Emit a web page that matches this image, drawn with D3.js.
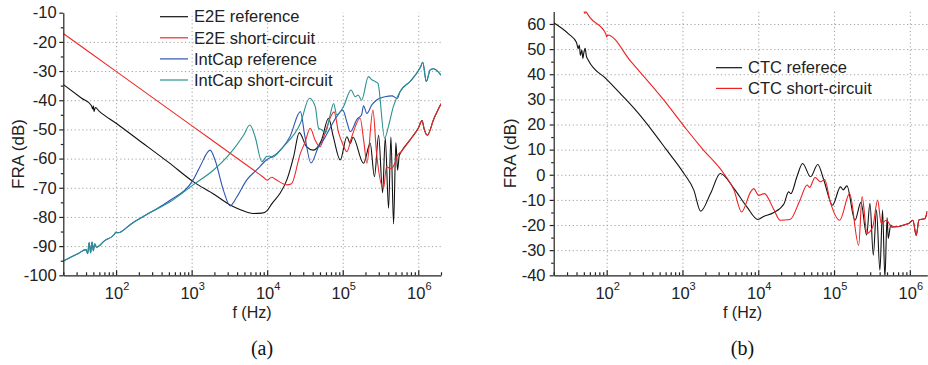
<!DOCTYPE html>
<html>
<head>
<meta charset="utf-8">
<script src="https://cdn.jsdelivr.net/npm/d3@7"></script>
<style>
  body { margin: 0; background: #fff; }
  svg { display: block; font-family: "Liberation Sans", Arial, sans-serif; }
</style>
</head>
<body>
<svg id="chart" width="928" height="365"></svg>
<script>
// ---- data (f in Hz, FRA in dB) ----
const e2eTail = [[600000,-57.5],[800000,-53.2],[1000000,-49.6],[1122000,-47],[1200000,-50],[1318000,-52],[1600000,-46.5],[2000000,-41.2]];
const e2eRef = [[20,-34.6],[35,-39.3],[47,-41.8],[49,-43.0],[50,-41.9],[51,-43.9],[53,-42.5],[60,-43.8],[100,-47.9],[200,-53.7],[500,-61.4],[1047,-67.9],[2000,-72.3],[3236,-75.9],[4500,-77.6],[6500,-78.8],[8500,-78.7],[10000,-77.8],[11500,-75.5],[14800,-71.9],[18200,-67.3],[22400,-59.3],[26600,-51.1],[33100,-55.9],[40700,-57.1],[52500,-53.6],[64900,-46.2],[75000,-52.5],[92700,-60.5],[113500,-52.5],[125900,-54.8],[136500,-52.7],[188800,-61.6],[231200,-54.8],[263000,-66.2],[298500,-52],[337300,-71.7],[365600,-53],[404600,-77],[434500,-52.5],[471000,-82.4],[505800,-54.5],[532100,-64],[560000,-59]].concat(e2eTail);
const e2eShort = [[20,-17.1],[100,-30.1],[1000,-48.7],[5000,-61.7],[8900,-66.4],[10000,-67.4],[11500,-66.4],[13000,-67.2],[18200,-69.0],[21000,-68.6],[27500,-58.2],[31600,-54.5],[37150,-49.6],[43000,-53.6],[50000,-56],[58900,-50.8],[77000,-44],[88000,-51],[100000,-55],[113500,-57.6],[131800,-52.5],[170000,-46.2],[190000,-54],[208900,-61.6],[251200,-43.4],[280000,-58],[346700,-70.2],[380000,-62.8],[430000,-63.5],[490000,-61.6],[520000,-59.3]].concat(e2eTail);

const intBase = [[20,-95.1],[31.6,-92.5],[40,-91.2],[42,-92.6],[44,-88.8],[46,-92.3],[48,-88.6],[50,-91.6],[52,-89.2],[55,-90.4],[70,-88.2],[94,-86.1],[100,-85.2],[106,-85.4],[158,-82.4],[282,-78.5]];
const intTail = [[575400,-37],[783000,-33.5],[1064000,-28.8],[1148000,-27],[1276000,-33.6],[1442000,-29.6],[1596000,-29.2],[2000000,-31.4]];
const intRef = intBase.concat([[519,-74.3],[1047,-67.3],[1288,-62.8],[1758,-57.1],[2042,-60.5],[2630,-70.8],[3236,-76.2],[3981,-73.1],[5370,-67.3],[7244,-63.9],[9772,-60.5],[13490,-58.2],[20000,-52.5],[27540,-43.9],[31600,-52.5],[38000,-61.5],[47900,-55.9],[55600,-53.6],[67600,-49.6],[83200,-45.6],[100000,-43.4],[114800,-47.9],[125900,-50.8],[155000,-46.5],[177800,-45],[188400,-41.9],[208900,-44.5],[242700,-41.6],[281800,-39.9],[363000,-38.8],[450000,-38.5],[525000,-39.4]], intTail);
const intShort = intBase.concat([[519,-74.8],[1047,-69.0],[1950,-63.9],[3236,-58.2],[4898,-51.9],[5888,-48.5],[6918,-52.5],[8511,-61.1],[9772,-59.3],[10715,-59.1],[11482,-59.6],[16400,-55.9],[27540,-47.9],[36300,-39.3],[43300,-42.2],[47900,-49.6],[53100,-50.2],[58900,-51.3],[68200,-45],[75900,-41.1],[83200,-45],[102300,-42.2],[128800,-36.5],[146600,-38.8],[160000,-38.2],[177800,-40],[218800,-31.9],[243200,-33],[269200,-33.6],[292400,-34.2],[359000,-53],[407400,-48.5],[467700,-42.2]], intTail);

const ctcTail = [[582000,-20.8],[966000,-19.4],[1096000,-18.1],[1216000,-24.1],[1318000,-18],[1585000,-17.4],[1700000,-14.5]];
const ctcRef = [[20,60.5],[31.6,56],[40,52.6],[42,50.2],[43.5,51.6],[45,47.5],[47,49.6],[48.5,46.3],[50,48.6],[52,50.3],[54,47.2],[57,45.7],[100,38],[158,31.7],[251,25.1],[417,16.8],[603,10.3],[1047,0.5],[1413,-6.1],[1738,-14.5],[2344,-7.5],[3162,0.5],[4786,-5.5],[7079,-12.8],[9886,-17.8],[11750,-16.6],[15850,-15.1],[21880,-11.5],[25120,-6.8],[26920,-7.5],[32360,-0.8],[38460,4.5],[48980,-0.8],[60950,4.1],[73280,-2.1],[95500,-12.1],[121600,-4.8],[131800,-6],[147900,-4.4],[188800,-18.1],[226500,-11],[269200,-24],[297800,-11.4],[329600,-32],[363100,-14],[402700,-38],[436500,-14],[468800,-41],[501200,-17],[518800,-25.3],[560000,-20]].concat(ctcTail);
const ctcShort = [[50,65.3],[51.5,64.2],[53,65.1],[55,64.3],[60,62.6],[97,56.2],[100,54.8],[103,55.6],[209,45],[569,29.7],[1148,17.8],[1820,10.4],[3508,0.5],[4786,-6.1],[6026,-14.8],[7943,-6.8],[8710,-5.5],[10120,-8.2],[12020,-7.5],[15850,-13.5],[19500,-18.1],[26300,-17.8],[35500,-10.1],[44200,-4.1],[47500,-5],[56200,-1.1],[66100,-2.8],[75300,-1.9],[89100,-10.8],[118900,-18.1],[160300,-7.5],[211300,-28.1],[234400,-8.7],[272300,-23.3],[323600,-20.8],[375800,-10.1],[420000,-19.4],[490000,-18.1]].concat(ctcTail);

const decades = [100, 1000, 10000, 100000, 1000000];
const ticksA = d3.range(-100, -9, 10);
const ticksB = d3.range(-40, 61, 10);

const svg = d3.select("#chart");

function panel(o) {
  const x = d3.scaleLog().domain(o.xDom).range([o.x0, o.x1]);
  const y = d3.scaleLinear().domain(o.yDom).range([o.yBot, o.yTop]);
  const g = svg.append("g");

  // minor x ticks
  const minors = [];
  for (let e = 1; e <= 6; e++) for (let m = 2; m <= 9; m++) {
    const v = m * Math.pow(10, e);
    if (v >= o.xDom[0] && v <= o.xDom[1]) minors.push(v);
  }

  // grid
  g.append("g").attr("transform", `translate(0,${o.yBot})`)
    .call(d3.axisBottom(x).tickValues(decades).tickSize(-(o.yBot - o.yTop)).tickFormat(""))
    .call(s => s.select(".domain").remove())
    .selectAll("line").attr("stroke", "#a0a0a0").attr("stroke-dasharray", "1.2,2.6");
  g.append("g").attr("transform", `translate(${o.x0},0)`)
    .call(d3.axisLeft(y).tickValues(o.grid).tickSize(-(o.x1 - o.x0)).tickFormat(""))
    .call(s => s.select(".domain").remove())
    .selectAll("line").attr("stroke", "#a0a0a0").attr("stroke-dasharray", "1.2,2.6");

  // curves
  const clipId = "clip" + o.id;
  svg.append("clipPath").attr("id", clipId).append("rect")
    .attr("x", o.x0).attr("y", o.yTop).attr("width", o.x1 - o.x0).attr("height", o.yBot - o.yTop);
  const line = d3.line().x(d => x(d[0])).y(d => y(d[1])).curve(d3.curveMonotoneX);
  const cg = g.append("g").attr("clip-path", `url(#${clipId})`);
  o.series.forEach(s => {
    cg.append("path").datum(s.data).attr("d", line)
      .attr("fill", "none").attr("stroke", s.color).attr("stroke-width", 1.1);
  });

  // axes
  const xa = g.append("g").attr("transform", `translate(0,${o.yBot})`);
  xa.call(d3.axisBottom(x).tickValues(minors).tickSize(-3).tickSizeOuter(0).tickFormat(""));
  xa.append("g").call(d3.axisBottom(x).tickValues(decades).tickSize(-5).tickSizeOuter(0).tickFormat(""))
    .call(s => s.select(".domain").remove());
  xa.selectAll("path,line").attr("stroke", "#222").attr("stroke-width", 1.2);

  const ya = g.append("g").attr("transform", `translate(${o.x0},0)`);
  const yMinor = d3.range(o.yDom[0] + 5, o.yDom[1], 10);
  ya.call(d3.axisLeft(y).tickValues(yMinor).tickSize(2.5).tickSizeOuter(0).tickFormat(""));
  ya.append("g").call(d3.axisLeft(y).tickValues(o.ticks).tickSize(4).tickSizeOuter(0).tickFormat(""))
    .call(s => s.select(".domain").remove());
  ya.selectAll("path,line").attr("stroke", "#222").attr("stroke-width", 1.2);

  // tick labels
  g.selectAll(".yl").data(o.ticks).join("text")
    .attr("x", o.x0 - o.labOff).attr("y", d => y(d)).attr("dy", "0.35em")
    .attr("text-anchor", "end").attr("font-size", 16.5).attr("fill", "#222")
    .text(d => d);
  const xl = g.selectAll(".xl").data(decades).join("text")
    .attr("x", d => x(d) + 1).attr("y", 298.5)
    .attr("text-anchor", "middle").attr("font-size", 16.5).attr("fill", "#222");
  xl.append("tspan").text("10");
  xl.append("tspan").attr("dy", -9).attr("font-size", 11).text(d => Math.round(Math.log10(d)));

  // titles
  g.append("text").attr("transform", `translate(${o.ytX},${(o.yTop + o.yBot) / 2 + 10}) rotate(-90)`)
    .attr("dy", "0.35em").attr("text-anchor", "middle").attr("font-size", 17).attr("fill", "#222")
    .text("FRA (dB)");
  g.append("text").attr("x", o.xtX).attr("y", 317.5)
    .attr("text-anchor", "middle").attr("font-size", 16).attr("fill", "#222").text("f (Hz)");
  g.append("text").attr("x", o.xtX + o.capDx).attr("y", 355)
    .attr("text-anchor", "middle").attr("font-size", 20).attr("fill", "#111")
    .attr("font-family", "'Liberation Serif', 'Times New Roman', serif").text(o.caption);

  // legend
  const lg = g.append("g");
  o.series.forEach((s, i) => {
    const yy = o.legY + i * o.legDy;
    lg.append("line").attr("x1", o.legX).attr("x2", o.legX + o.legLen).attr("y1", yy).attr("y2", yy)
      .attr("stroke", s.color).attr("stroke-width", 1.2);
    lg.append("text").attr("x", o.legX + o.legLen + 6).attr("y", yy).attr("dy", "0.35em")
      .attr("font-size", 16.5).attr("fill", "#222").text(s.name);
  });
}

panel({
  id: "a", xDom: [20, 2e6], yDom: [-100, -10], x0: 63.3, x1: 441, yTop: 12.7, yBot: 275.3,
  ticks: ticksA, grid: ticksA.slice(1, -1), labOff: 6.6, ytX: 18, xtX: 252, capDx: 10, caption: "(a)",
  legX: 160, legY: 16.7, legDy: 21.1, legLen: 28,
  series: [
    { name: "E2E reference", color: "#111111", data: e2eRef },
    { name: "E2E short-circuit", color: "#ee2a2a", data: e2eShort },
    { name: "IntCap reference", color: "#2d55b5", data: intRef },
    { name: "IntCap short-circuit", color: "#2a9090", data: intShort }
  ]
});

panel({
  id: "b", xDom: [20, 1.7e6], yDom: [-40, 65], x0: 553.7, x1: 927.3, yTop: 11.4, yBot: 275.3,
  ticks: ticksB, grid: ticksB.slice(1), labOff: 8.2, ytX: 510.5, xtX: 742.5, capDx: 0, caption: "(b)",
  legX: 716, legY: 67.7, legDy: 20.7, legLen: 26,
  series: [
    { name: "CTC referece", color: "#111111", data: ctcRef },
    { name: "CTC short-circuit", color: "#ee2020", data: ctcShort }
  ]
});
</script>
</body>
</html>
